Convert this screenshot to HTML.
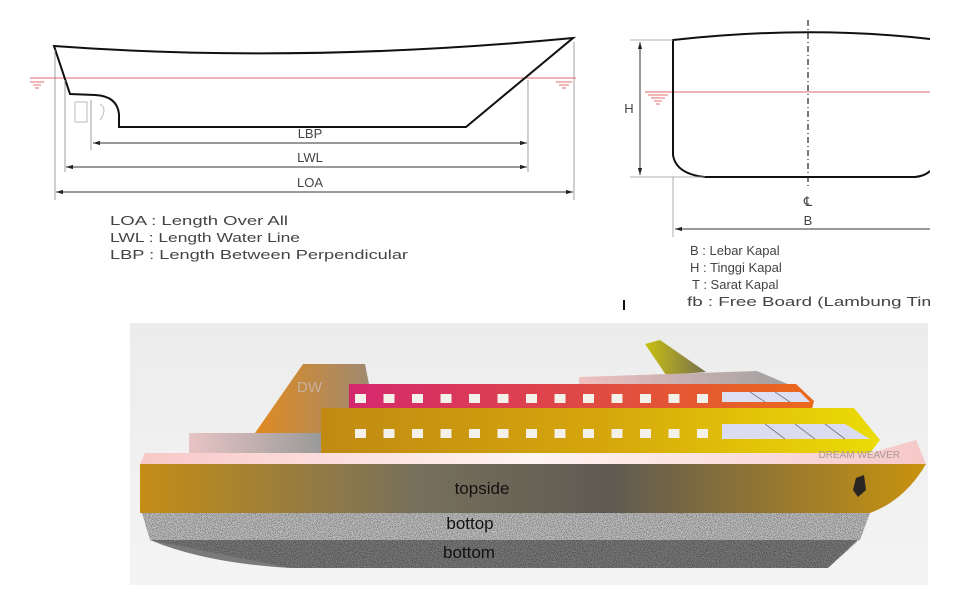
<!DOCTYPE html>
<html><head><meta charset="utf-8"><style>
html,body{margin:0;padding:0;background:#fff;width:976px;height:593px;overflow:hidden}
svg{display:block}
text{font-family:"Liberation Sans",sans-serif}
</style></head><body>
<svg width="976" height="593" viewBox="0 0 976 593">
<defs>
<marker id="ar" viewBox="0 0 10 10" refX="10" refY="5" markerWidth="7" markerHeight="7" orient="auto-start-reverse"><path d="M0,2 L10,5 L0,8 z" fill="#222"/></marker>
<linearGradient id="bg" x1="0" y1="0" x2="0" y2="1"><stop offset="0" stop-color="#ececec"/><stop offset="1" stop-color="#f4f4f4"/></linearGradient>
<linearGradient id="tops" x1="0" y1="0" x2="1" y2="0"><stop offset="0" stop-color="#c48d16"/><stop offset="0.35" stop-color="#77705c"/><stop offset="0.6" stop-color="#5f5a52"/><stop offset="1" stop-color="#c9930f"/></linearGradient>
<linearGradient id="sup" x1="0" y1="0" x2="1" y2="0"><stop offset="0" stop-color="#c08a12"/><stop offset="0.5" stop-color="#d5a60c"/><stop offset="1" stop-color="#ecdc06"/></linearGradient>
<linearGradient id="upd" x1="0" y1="0" x2="1" y2="0"><stop offset="0" stop-color="#d4286e"/><stop offset="1" stop-color="#ea6a1c"/></linearGradient>
<linearGradient id="fun" x1="0" y1="0" x2="1" y2="0"><stop offset="0" stop-color="#e08a20"/><stop offset="1" stop-color="#a08a70"/></linearGradient>
<linearGradient id="pink" x1="0" y1="0" x2="1" y2="0"><stop offset="0" stop-color="#f8c8c8"/><stop offset="0.5" stop-color="#fff4f0"/><stop offset="1" stop-color="#f6c8c8"/></linearGradient>
<linearGradient id="gbox" x1="0" y1="0" x2="1" y2="0"><stop offset="0" stop-color="#e8c4c4"/><stop offset="1" stop-color="#9a9a9a"/></linearGradient>
<linearGradient id="roof" x1="0" y1="0" x2="1" y2="0"><stop offset="0" stop-color="#f0c0c0"/><stop offset="1" stop-color="#a0a0a0"/></linearGradient>
<linearGradient id="mast" x1="0" y1="0" x2="1" y2="0"><stop offset="0" stop-color="#c8c010"/><stop offset="1" stop-color="#777050"/></linearGradient>
<filter id="noise" x="0" y="0" width="100%" height="100%"><feTurbulence type="fractalNoise" baseFrequency="1.2" numOctaves="1" seed="3"/><feColorMatrix type="matrix" values="0 0 0 0 0  0 0 0 0 0  0 0 0 0 0  0 0 0 -2.2 1.25"/><feComposite in2="SourceGraphic" operator="in"/></filter>
<clipPath id="hullclip"><polygon points="142,513 870,513 860,540 828,568 290,568 150,540"/></clipPath>
</defs>

<g fill="none">
<line x1="30" y1="78" x2="576" y2="78" stroke="#e06a6a" stroke-width="1"/>
<g stroke="#e07070" stroke-width="1"><line x1="30" y1="82" x2="44" y2="82"/><line x1="33" y1="85" x2="41" y2="85"/><line x1="35" y1="88" x2="39" y2="88"/></g>
<g stroke="#e07070" stroke-width="1"><line x1="556" y1="82" x2="572" y2="82"/><line x1="559" y1="85" x2="569" y2="85"/><line x1="562" y1="88" x2="566" y2="88"/></g>
<path d="M54,46 Q300,64 573,38 L466,127 L119,127 L119,114 Q117,96 95,95 L70,94 Z" stroke="#111" stroke-width="2"/>
<path d="M75,102 h12 v20 h-12z M100,104 q8,5 0,16" stroke="#bbb" stroke-width="1"/>
<g stroke="#888" stroke-width="0.8">
<line x1="55" y1="50" x2="55" y2="200"/><line x1="65" y1="80" x2="65" y2="172"/><line x1="91" y1="100" x2="91" y2="150"/><line x1="528" y1="80" x2="528" y2="172"/><line x1="574" y1="42" x2="574" y2="200"/>
</g>
<line x1="93" y1="143" x2="527" y2="143" stroke="#333" stroke-width="1" marker-start="url(#ar)" marker-end="url(#ar)"/>
<line x1="66" y1="167" x2="527" y2="167" stroke="#333" stroke-width="1" marker-start="url(#ar)" marker-end="url(#ar)"/>
<line x1="56" y1="192" x2="573" y2="192" stroke="#333" stroke-width="1" marker-start="url(#ar)" marker-end="url(#ar)"/>
</g>
<g fill="#444" font-size="13">
<text x="310" y="138" text-anchor="middle">LBP</text>
<text x="310" y="162" text-anchor="middle">LWL</text>
<text x="310" y="187" text-anchor="middle">LOA</text>
<text x="110" y="225" textLength="178" lengthAdjust="spacingAndGlyphs">LOA : Length Over All</text>
<text x="110" y="242" textLength="190" lengthAdjust="spacingAndGlyphs">LWL  : Length Water Line</text>
<text x="110" y="259" textLength="298" lengthAdjust="spacingAndGlyphs">LBP   : Length Between Perpendicular</text>
</g>

<g fill="none">
<line x1="645" y1="92" x2="930" y2="92" stroke="#e06a6a" stroke-width="1"/>
<g stroke="#e07070" stroke-width="1"><line x1="648" y1="95" x2="668" y2="95"/><line x1="651" y1="98" x2="665" y2="98"/><line x1="654" y1="101" x2="662" y2="101"/><line x1="656" y1="104" x2="660" y2="104"/></g>
<path d="M930,39 Q808,25 673,40 L673,155 Q676,174 705,177 L915,177 Q925,176 930,171" stroke="#111" stroke-width="2"/>
<line x1="808" y1="20" x2="808" y2="188" stroke="#222" stroke-width="1.2" stroke-dasharray="6,3,1,3"/>
<g stroke="#999" stroke-width="0.8"><line x1="630" y1="40" x2="673" y2="40"/><line x1="630" y1="177" x2="705" y2="177"/><line x1="673" y1="177" x2="673" y2="237"/></g>
<line x1="640" y1="42" x2="640" y2="175" stroke="#333" stroke-width="1" marker-start="url(#ar)" marker-end="url(#ar)"/>
<line x1="675" y1="229" x2="930" y2="229" stroke="#333" stroke-width="1" marker-start="url(#ar)"/>
</g>
<g fill="#444" font-size="13">
<text x="629" y="113" text-anchor="middle">H</text>
<text x="808" y="206" text-anchor="middle">℄</text>
<text x="808" y="225" text-anchor="middle">B</text>
<text x="690" y="255">B : Lebar Kapal</text>
<text x="690" y="272">H : Tinggi Kapal</text>
<text x="692" y="289">T : Sarat Kapal</text>
<text x="687" y="306" textLength="250" lengthAdjust="spacingAndGlyphs">fb : Free Board (Lambung Tim</text>
<rect x="623" y="300" width="2" height="10" fill="#111"/>
</g>
<rect x="930" y="0" width="46" height="320" fill="#fff"/>

<g>
<rect x="130" y="323" width="798" height="262" fill="url(#bg)"/>
<polygon points="645,344 660,340 706,372 666,375" fill="url(#mast)"/>
<polygon points="579,377 757,371 790,385 579,385" fill="url(#roof)"/>
<polygon points="255,433 303,364 365,364 369,384 369,433" fill="url(#fun)"/>
<text x="297" y="392" font-size="15" fill="#c8b0a0">DW</text>
<polygon points="349,384 796,384 814,401 812,409 349,409" fill="url(#upd)"/>
<polygon points="722,392 800,392 810,402 722,402" fill="#dde0f2"/>
<polygon points="189,433 321,433 321,453 189,453" fill="url(#gbox)"/>
<polygon points="321,408 854,408 880,440 870,453 321,453" fill="url(#sup)"/>
<polygon points="722,424 845,424 870,439 722,439" fill="#dcdcf0"/>
<g stroke="#777" stroke-width="0.8"><line x1="750" y1="392" x2="765" y2="402"/><line x1="775" y1="392" x2="790" y2="402"/><line x1="765" y1="424" x2="785" y2="439"/><line x1="795" y1="424" x2="815" y2="439"/><line x1="825" y1="424" x2="845" y2="439"/></g>
<polygon points="145,453 870,453 916,440 926,464 140,464" fill="url(#pink)"/>
<text x="900" y="458" font-size="10" fill="#a89898" text-anchor="end">DREAM WEAVER</text>
<path d="M140,464 L926,464 Q905,500 870,513 L140,513 Z" fill="url(#tops)"/>
<polygon points="856,478 864,475 866,490 858,497 853,490" fill="#2a2525"/>
<polygon points="142,513 870,513 860,540 150,540" fill="#c0c0c0"/>
<path d="M150,540 L858,540 L828,568 L290,568 Q205,563 150,540 Z" fill="#7a7a7a"/>
<rect x="140" y="513" width="730" height="56" fill="#111" filter="url(#noise)" opacity="0.7" clip-path="url(#hullclip)"/>
<text x="482" y="494" font-size="17" fill="#111" text-anchor="middle">topside</text>
<text x="470" y="529" font-size="17" fill="#111" text-anchor="middle">bottop</text>
<text x="469" y="558" font-size="17" fill="#111" text-anchor="middle">bottom</text>
</g>
<g fill="#f4f0ea">
<script>
(function(){
  var g=document.currentScript.parentNode, ns="http://www.w3.org/2000/svg";
  [394,429].forEach(function(y){
    for(var i=0;i<13;i++){
      var r=document.createElementNS(ns,'rect');
      r.setAttribute('x',355+i*28.5);r.setAttribute('y',y);r.setAttribute('width',11);r.setAttribute('height',9);
      
      
      g.appendChild(r);
    }
  });
})();
</script>
</g>
</svg>
</body></html>
